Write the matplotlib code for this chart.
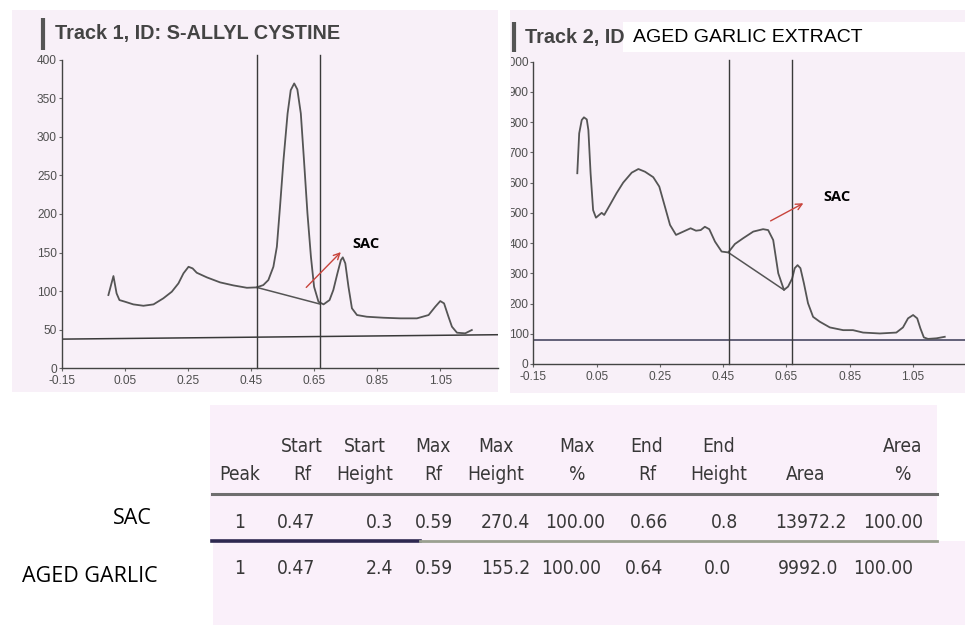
import os
import matplotlib
matplotlib.use('Agg')
import matplotlib.pyplot as plt
from matplotlib import font_manager
from matplotlib.font_manager import FontProperties
from matplotlib.patches import Rectangle
from matplotlib.textpath import TextPath
from matplotlib.transforms import Bbox, TransformedBbox

# ---------------- data ----------------
# Track 1 (S-allyl cystine standard) densitogram
t1_rf = [-0.002, 0.014, 0.024, 0.033, 0.051, 0.077, 0.109, 0.141, 0.172, 0.199,
         0.220, 0.236, 0.252, 0.265, 0.278, 0.310, 0.352, 0.394, 0.437, 0.468,
         0.489, 0.505, 0.521, 0.532, 0.542, 0.553, 0.566, 0.576, 0.587, 0.597,
         0.608, 0.618, 0.629, 0.640, 0.650, 0.664, 0.680, 0.699, 0.711, 0.724,
         0.735, 0.741, 0.749, 0.759, 0.770, 0.786, 0.817, 0.870, 0.923, 0.976,
         1.013, 1.034, 1.050, 1.062, 1.076, 1.087, 1.103, 1.129, 1.150]
t1_h = [94.9, 119.5, 97.0, 88.4, 86.2, 82.8, 81.0, 82.8, 90.6, 99.2,
        110.0, 123.0, 131.5, 129.4, 123.8, 117.8, 111.3, 107.4, 104.3, 104.8,
        107.8, 114.3, 131.5, 157.4, 209.2, 269.6, 330.0, 360.3, 369.0, 361.2,
        330.0, 269.6, 200.6, 144.5, 105.6, 86.2, 82.8, 88.4, 101.4, 123.0,
        140.2, 143.7, 135.9, 105.6, 77.7, 69.0, 66.8, 65.5, 64.7, 64.7,
        69.0, 79.7, 87.1, 84.1, 66.8, 53.9, 46.1, 45.3, 49.6]
t1_base_rf = [-0.15, 1.233]
t1_base_h = [37.8, 43.5]
t1_peak_base_rf = [0.468, 0.669]
t1_peak_base_h = [104.8, 83.2]
t1_bounds = [0.470, 0.668]
t1_arrow_from = (0.619, 102.2)
t1_arrow_to = (0.741, 153.1)
t1_label_pos = (0.772, 160.5)

# Track 2 (aged garlic extract) densitogram
t2_rf = [-0.011, -0.005, 0.003, 0.010, 0.019, 0.024, 0.031, 0.039, 0.048, 0.058,
         0.066, 0.074, 0.092, 0.113, 0.134, 0.161, 0.182, 0.203, 0.229, 0.248,
         0.266, 0.282, 0.301, 0.324, 0.347, 0.364, 0.379, 0.392, 0.406, 0.424,
         0.445, 0.466, 0.487, 0.513, 0.545, 0.576, 0.592, 0.608, 0.624, 0.642,
         0.655, 0.668, 0.676, 0.685, 0.694, 0.705, 0.718, 0.734, 0.755, 0.787,
         0.829, 0.860, 0.892, 0.945, 0.997, 1.018, 1.034, 1.050, 1.063, 1.073,
         1.084, 1.097, 1.124, 1.150]
t2_h = [631, 763, 807, 816, 809, 774, 631, 509, 484, 493,
        500, 493, 526, 565, 600, 633, 645, 636, 618, 587,
        520, 460, 427, 438, 449, 441, 443, 454, 446, 405,
        372, 369, 397, 416, 438, 446, 443, 410, 300, 245,
        256, 283, 317, 327, 317, 267, 201, 156, 140, 121,
        112, 112, 104, 101, 104, 121, 151, 162, 151, 118,
        88, 83, 85, 90]
t2_base_rf = [-0.15, 1.214]
t2_base_h = [81.0, 81.0]
t2_peak_base_rf = [0.466, 0.642]
t2_peak_base_h = [369, 245]
t2_bounds = [0.468, 0.667]
t2_arrow_from = (0.592, 469)
t2_arrow_to = (0.711, 536)
t2_label_pos = (0.765, 552)

x_ticks = [-0.15, 0.05, 0.25, 0.45, 0.65, 0.85, 1.05]
x_tick_labels = ['-0.15', '0.05', '0.25', '0.45', '0.65', '0.85', '1.05']
y1_ticks = [0, 50, 100, 150, 200, 250, 300, 350, 400]
y2_ticks = [0, 100, 200, 300, 400, 500, 600, 700, 800, 900, 1000]

title1 = 'Track 1, ID: S-ALLYL CYSTINE'
title2a = 'Track 2, ID'
title2b = 'AGED GARLIC EXTRACT'

# peak table
head_top = ['', 'Start', 'Start', 'Max', 'Max', 'Max', 'End', 'End', '', 'Area']
head_bot = ['Peak', 'Rf', 'Height', 'Rf', 'Height', '%', 'Rf', 'Height', 'Area', '%']
row_names = ['SAC', 'AGED GARLIC']
row_sac = ['1', '0.47', '0.3', '0.59', '270.4', '100.00', '0.66', '0.8', '13972.2', '100.00']
row_aged = ['1', '0.47', '2.4', '0.59', '155.2', '100.00', '0.64', '0.0', '9992.0', '100.00']

# ---------------- fonts ----------------
W, H = 965, 625
names = {f.name for f in font_manager.fontManager.ttflist}
ARIAL = 'Liberation Sans'
HUMAN = 'Open Sans' if 'Open Sans' in names else 'DejaVu Sans'


def find_condensed():
    for f in font_manager.fontManager.ttflist:
        base = os.path.basename(f.fname)
        nm = f.name
        cond = ('Narrow' in nm or 'Condensed' in nm or 'Narrow' in base
                or 'Condensed' in base
                or f.stretch in ('condensed', 'semi-condensed', 'extra-condensed',
                                 'ultra-condensed'))
        if not cond or 'Mono' in nm or 'Serif' in nm:
            continue
        if f.style != 'normal' or f.weight not in (400, 'normal', 'regular'):
            continue
        return f.fname
    return None


cf = find_condensed()
TAB_FP = FontProperties(fname=cf) if cf else FontProperties(family=ARIAL)


def fit_size(fp, samples, max_cap_px):
    # choose a size so the sample strings take their measured widths
    ratios = []
    for s, target in samples:
        w = TextPath((0, 0), s, prop=fp, size=10).get_extents().width * 100 / 72
        ratios.append(target / w * 10)
    size = sum(ratios) / len(ratios)
    cap = TextPath((0, 0), 'H', prop=fp, size=10).get_extents().height * 100 / 72
    return min(size, max_cap_px / cap * 10)


tab_size = fit_size(TAB_FP, [('Height', 55), ('13972.2', 67), ('100.00', 57)], 20.5)
TICK_FAMILY = ARIAL
tick_size = 8.6

PANEL = '#f8f0f8'
TABLEBG = '#faf0fa'
CURVE = '#555555'
AXC = '#444444'
TXT = '#383838'
RED = '#c8443c'

fig = plt.figure(figsize=(W / 100, H / 100), dpi=100)
fig.patch.set_facecolor('white')

bg = fig.add_axes([0, 0, 1, 1], zorder=0)
bg.set_xlim(0, W)
bg.set_ylim(H, 0)
bg.axis('off')


def rect(x0, y0, x1, y1, color):
    bg.add_patch(Rectangle((x0, y0), x1 - x0, y1 - y0, facecolor=color,
                           edgecolor='none'))


rect(12, 10, 498, 392, PANEL)
rect(510, 10, 965, 393, PANEL)
rect(210, 405, 937, 541, TABLEBG)
rect(213, 541, 965, 625, TABLEBG)


def ax_at(x0, y0, x1, y1):
    return fig.add_axes([x0 / W, 1 - y1 / H, (x1 - x0) / W, (y1 - y0) / H], zorder=2)


def style_axes(ax, yt):
    ax.set_facecolor('none')
    for s in ('top', 'right'):
        ax.spines[s].set_visible(False)
    for s in ('left', 'bottom'):
        ax.spines[s].set_color(AXC)
        ax.spines[s].set_linewidth(1.0)
    ax.set_xticks(x_ticks)
    ax.set_xticklabels(x_tick_labels)
    ax.set_yticks(yt)
    ax.set_yticklabels([str(v) for v in yt])
    ax.tick_params(axis='both', labelcolor='#4f4f4f', color='#666666',
                   length=2, width=0.8, labelsize=tick_size)
    ax.tick_params(axis='x', pad=3)
    ax.tick_params(axis='y', pad=1.5)
    for lbl in ax.get_xticklabels() + ax.get_yticklabels():
        lbl.set_fontfamily(TICK_FAMILY)


# ---- track 1 ----
ax1 = ax_at(61.7, 59.5, 498, 368.3)
ax1.set_xlim(-0.15, 1.233)
ax1.set_ylim(0, 400)
style_axes(ax1, y1_ticks)
ax1.plot(t1_base_rf, t1_base_h, color='#3a3a3a', lw=1.1)
ax1.plot(t1_rf, t1_h, color=CURVE, lw=1.3, solid_joinstyle='round')
ax1.plot(t1_peak_base_rf, t1_peak_base_h, color=CURVE, lw=1.1)
for b in t1_bounds:
    ax1.plot([b, b], [0, 406], color='#3a3a3a', lw=1.0, clip_on=False)
ax1.annotate('', xy=t1_arrow_to, xytext=t1_arrow_from,
             arrowprops=dict(arrowstyle='->', color=RED, lw=1.0, mutation_scale=11))
ax1.text(t1_label_pos[0], t1_label_pos[1], 'SAC', fontsize=10.5, fontweight='bold',
         family=HUMAN, color='black', va='center', ha='left')

# ---- track 2 ----
ax2 = ax_at(533.3, 61.7, 965, 364)
ax2.set_xlim(-0.15, 1.214)
ax2.set_ylim(0, 1000)
style_axes(ax2, y2_ticks)
ax2.plot(t2_base_rf, t2_base_h, color='#3a3a55', lw=1.1)
ax2.plot(t2_rf, t2_h, color=CURVE, lw=1.3, solid_joinstyle='round')
ax2.plot(t2_peak_base_rf, t2_peak_base_h, color=CURVE, lw=1.1)
for b in t2_bounds:
    ax2.plot([b, b], [0, 1005], color='#3a3a3a', lw=1.0, clip_on=False)
ax2.annotate('', xy=t2_arrow_to, xytext=t2_arrow_from,
             arrowprops=dict(arrowstyle='->', color=RED, lw=1.0, mutation_scale=11))
ax2.text(t2_label_pos[0], t2_label_pos[1], 'SAC', fontsize=10.5, fontweight='bold',
         family=HUMAN, color='black', va='center', ha='left')
clipbox = TransformedBbox(Bbox.from_extents(511 / W, 0, 1, 1), fig.transFigure)
for tk in ax2.yaxis.get_major_ticks():
    tk.label1.set_clip_on(True)
    tk.label1.set_clip_box(clipbox)

# ---- titles ----
bg.plot([43, 43], [18, 50], color='#555555', lw=3, solid_capstyle='butt')
bg.text(55, 34, title1, fontsize=14.3, fontweight='bold', family=ARIAL,
        color='#444444', va='center', ha='left')
bg.plot([514, 514], [22, 52], color='#555555', lw=3, solid_capstyle='butt')
bg.text(525, 38, title2a, fontsize=14.3, fontweight='bold', family=ARIAL,
        color='#444444', va='center', ha='left')
rect(623, 22, 965, 52, 'white')
bg.text(633, 37, title2b, fontsize=14, family=ARIAL, color='black',
        va='center', ha='left')

# ---- table ----
head_cx = [240, 302, 365, 433, 496, 577, 647, 719, 806, 903]
val_rx1 = [245, 315, 393, 453, 530, 605, 668, 738, 847, 923]
val_rx2 = [245, 315, 393, 453, 530, 601, 663, 731, 838, 913]


def ttext(x, y, s, ha):
    t = bg.text(x, y, s, color=TXT, ha=ha, va='center_baseline')
    t.set_fontproperties(TAB_FP)
    t.set_fontsize(tab_size)


for cx, t, b in zip(head_cx, head_top, head_bot):
    if t:
        ttext(cx, 444, t, 'center')
    ttext(cx, 473, b, 'center')
bg.plot([212, 937], [494, 494], color='#6e6e6e', lw=2.2)
bg.plot([212, 420], [541, 541], color='#2e2850', lw=2.6)
bg.plot([420, 937], [541, 541], color='#9aa090', lw=2.0)
for rx, v in zip(val_rx1, row_sac):
    ttext(rx, 520, v, 'right')
for rx, v in zip(val_rx2, row_aged):
    ttext(rx, 566, v, 'right')
bg.text(132, 518, row_names[0], fontsize=15.5, family=HUMAN, color='black',
        ha='center', va='center')
bg.text(22, 576, row_names[1], fontsize=15.5, family=HUMAN, color='black',
        ha='left', va='center')

fig.savefig('out.png', dpi=100, facecolor='white')
